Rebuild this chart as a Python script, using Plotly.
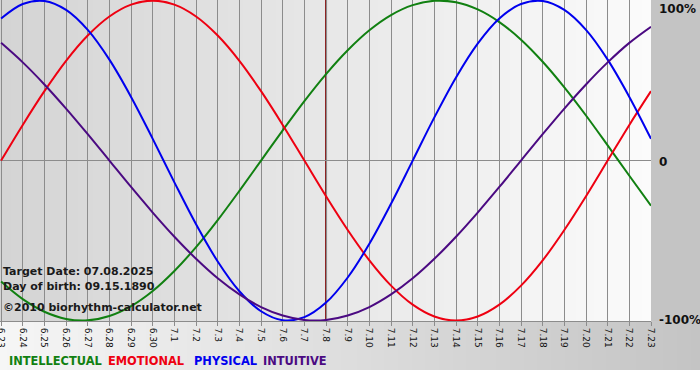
import base64, struct, zlib
import plotly.graph_objects as go

# ---------------- data ----------------
dates = ["6.23", "6.24", "6.25", "6.26", "6.27", "6.28", "6.29", "6.30",
         "7.1", "7.2", "7.3", "7.4", "7.5", "7.6", "7.7", "7.8", "7.9",
         "7.10", "7.11", "7.12", "7.13", "7.14", "7.15", "7.16", "7.17",
         "7.18", "7.19", "7.20", "7.21", "7.22", "7.23"]
target_label = "7.8"

intellectual = [-0.756, -0.866, -0.945, -0.990, -0.999, -0.972, -0.910, -0.815,
                -0.690, -0.541, -0.372, -0.189, 0.0, 0.189, 0.372, 0.541,
                0.690, 0.815, 0.910, 0.972, 0.999, 0.990, 0.945, 0.866,
                0.756, 0.618, 0.458, 0.282, 0.095, -0.095, -0.282]
emotional = [0.0, 0.223, 0.434, 0.624, 0.782, 0.901, 0.975, 1.0,
             0.975, 0.901, 0.782, 0.624, 0.434, 0.223, 0.0, -0.223,
             -0.434, -0.624, -0.782, -0.901, -0.975, -1.0, -0.975, -0.901,
             -0.782, -0.624, -0.434, -0.223, 0.0, 0.223, 0.434]
physical = [0.888, 0.979, 0.998, 0.942, 0.817, 0.631, 0.398, 0.136,
            -0.136, -0.398, -0.631, -0.817, -0.942, -0.998, -0.979, -0.888,
            -0.731, -0.520, -0.270, 0.0, 0.270, 0.520, 0.731, 0.888,
            0.979, 0.998, 0.942, 0.817, 0.631, 0.398, 0.136]
intuitive = [0.736, 0.614, 0.476, 0.325, 0.165, 0.0, -0.165, -0.325,
             -0.476, -0.614, -0.736, -0.837, -0.916, -0.969, -0.997, -0.997,
             -0.969, -0.916, -0.837, -0.736, -0.614, -0.476, -0.325, -0.165,
             0.0, 0.165, 0.325, 0.476, 0.614, 0.736, 0.837]

series_names = ["INTELLECTUAL", "EMOTIONAL", "PHYSICAL", "INTUITIVE"]
series_values = [intellectual, emotional, physical, intuitive]
series_colors = ["#118011", "#ee0011", "#0000ee", "#4b0a82"]

y_tick_vals = [1, 0, -1]
y_tick_text = ["100%", "0", "-100%"]

info_lines = ["Target Date: 07.08.2025", "Day of birth: 09.15.1890"]
copyright_text = "\u00a92010 biorhythm-calculator.net"

# ---------------- helpers ----------------
def gradient_png(c0, c1, w=256):
    raw = bytearray([0])
    for i in range(w):
        t = i / (w - 1)
        for a, b in zip(c0, c1):
            raw.append(int(round(a + (b - a) * t)))
    rows = bytes(raw)
    def chunk(tag, data):
        c = struct.pack(">I", len(data)) + tag + data
        return c + struct.pack(">I", zlib.crc32(tag + data) & 0xFFFFFFFF)
    png = b"\x89PNG\r\n\x1a\n"
    png += chunk(b"IHDR", struct.pack(">IIBBBBB", w, 1, 8, 2, 0, 0, 0))
    png += chunk(b"IDAT", zlib.compress(rows))
    png += chunk(b"IEND", b"")
    return "data:image/png;base64," + base64.b64encode(png).decode()

W, H = 700, 380
ML, MR, MT, MB = 0, 49, 0, 59
PW, PH = W - ML - MR, H - MT - MB

x_idx = list(range(len(dates)))
target_idx = dates.index(target_label)

fig = go.Figure()
for name, vals, col in zip(series_names, series_values, series_colors):
    fig.add_trace(go.Scatter(
        x=x_idx, y=vals, mode="lines", name=name,
        line=dict(color=col, width=2, shape="spline", smoothing=1.0),
        hoverinfo="skip", showlegend=False))

fig.add_shape(type="line", xref="x", yref="paper", x0=target_idx, x1=target_idx,
              y0=0, y1=1, line=dict(color="#8a1c1c", width=2), layer="between")

# white strip at very bottom
fig.add_shape(type="rect", xref="paper", yref="paper", x0=-0.01, x1=W / PW + 0.01,
              y0=-(H - 370) / PH - 49 / PH, y1=-49 / PH,
              fillcolor="white", line=dict(width=0), layer="below")

images = [
    dict(source=gradient_png((212, 212, 212), (251, 251, 251)), xref="paper", yref="paper",
         x=0, y=1, sizex=1, sizey=1, sizing="stretch", layer="below",
         xanchor="left", yanchor="top"),
    dict(source=gradient_png((246, 246, 246), (196, 196, 196)), xref="paper", yref="paper",
         x=0, y=0, sizex=W / PW, sizey=49 / PH, sizing="stretch", layer="below",
         xanchor="left", yanchor="top"),
]

annotations = []
for v, t, ya in zip(y_tick_vals, y_tick_text, ["top", "middle", "bottom"]):
    annotations.append(dict(xref="paper", yref="y", x=1, y=v, text="<b>%s</b>" % t,
                            showarrow=False, xanchor="left", yanchor=ya, xshift=6,
                            yshift={"top": 1, "middle": -1, "bottom": -8}[ya],
                            font=dict(family="DejaVu Sans", size=12, color="#111")))
for i, t in enumerate(info_lines):
    annotations.append(dict(xref="paper", yref="paper", x=0, y=1 - (271 + 15 * i) / PH,
                            text="<b>%s</b>" % t, showarrow=False, xanchor="left",
                            yanchor="middle", xshift=1,
                            font=dict(family="DejaVu Sans", size=11, color="#1a1a1a")))
annotations.append(dict(xref="paper", yref="paper", x=0, y=1 - 307 / PH,
                        text="<b>%s</b>" % copyright_text, showarrow=False,
                        xanchor="left", yanchor="middle", xshift=1,
                        font=dict(family="DejaVu Sans", size=11, color="#1a1a1a")))
legend_px = [7, 106, 192, 261]
for n, c, px in zip(series_names, series_colors, legend_px):
    annotations.append(dict(xref="paper", yref="paper", x=px / PW, y=-(361 - PH) / PH,
                            text="<b>%s</b>" % n, showarrow=False,
                            xanchor="left", yanchor="middle",
                            font=dict(family="DejaVu Sans", size=11.4, color=c)))

fig.update_layout(
    width=W, height=H,
    margin=dict(l=ML, r=MR, t=MT, b=MB, pad=0, autoexpand=False),
    paper_bgcolor="#c4c4c4", plot_bgcolor="rgba(0,0,0,0)",
    images=images, annotations=annotations,
    xaxis=dict(range=[-0.05, len(dates) - 1], tickvals=x_idx, ticktext=dates,
               tickangle=90, showgrid=True, gridcolor="#8c8c8c", gridwidth=1,
               ticks="outside", ticklen=4, tickcolor="#8c8c8c",
               showline=True, linecolor="#8c8c8c", linewidth=1,
               zeroline=False, fixedrange=True, automargin=False,
               ticklabeloverflow="allow",
               tickfont=dict(family="DejaVu Sans", size=9, color="#111")),
    yaxis=dict(range=[-1.003, 1.004], showgrid=False, zeroline=True,
               zerolinecolor="#8c8c8c", zerolinewidth=1, showticklabels=False,
               fixedrange=True, automargin=False),
    showlegend=False,
)

fig.write_html("out.html", config={"displayModeBar": False, "staticPlot": True},
               post_script="document.body.style.margin='0';document.body.style.padding='0';")
